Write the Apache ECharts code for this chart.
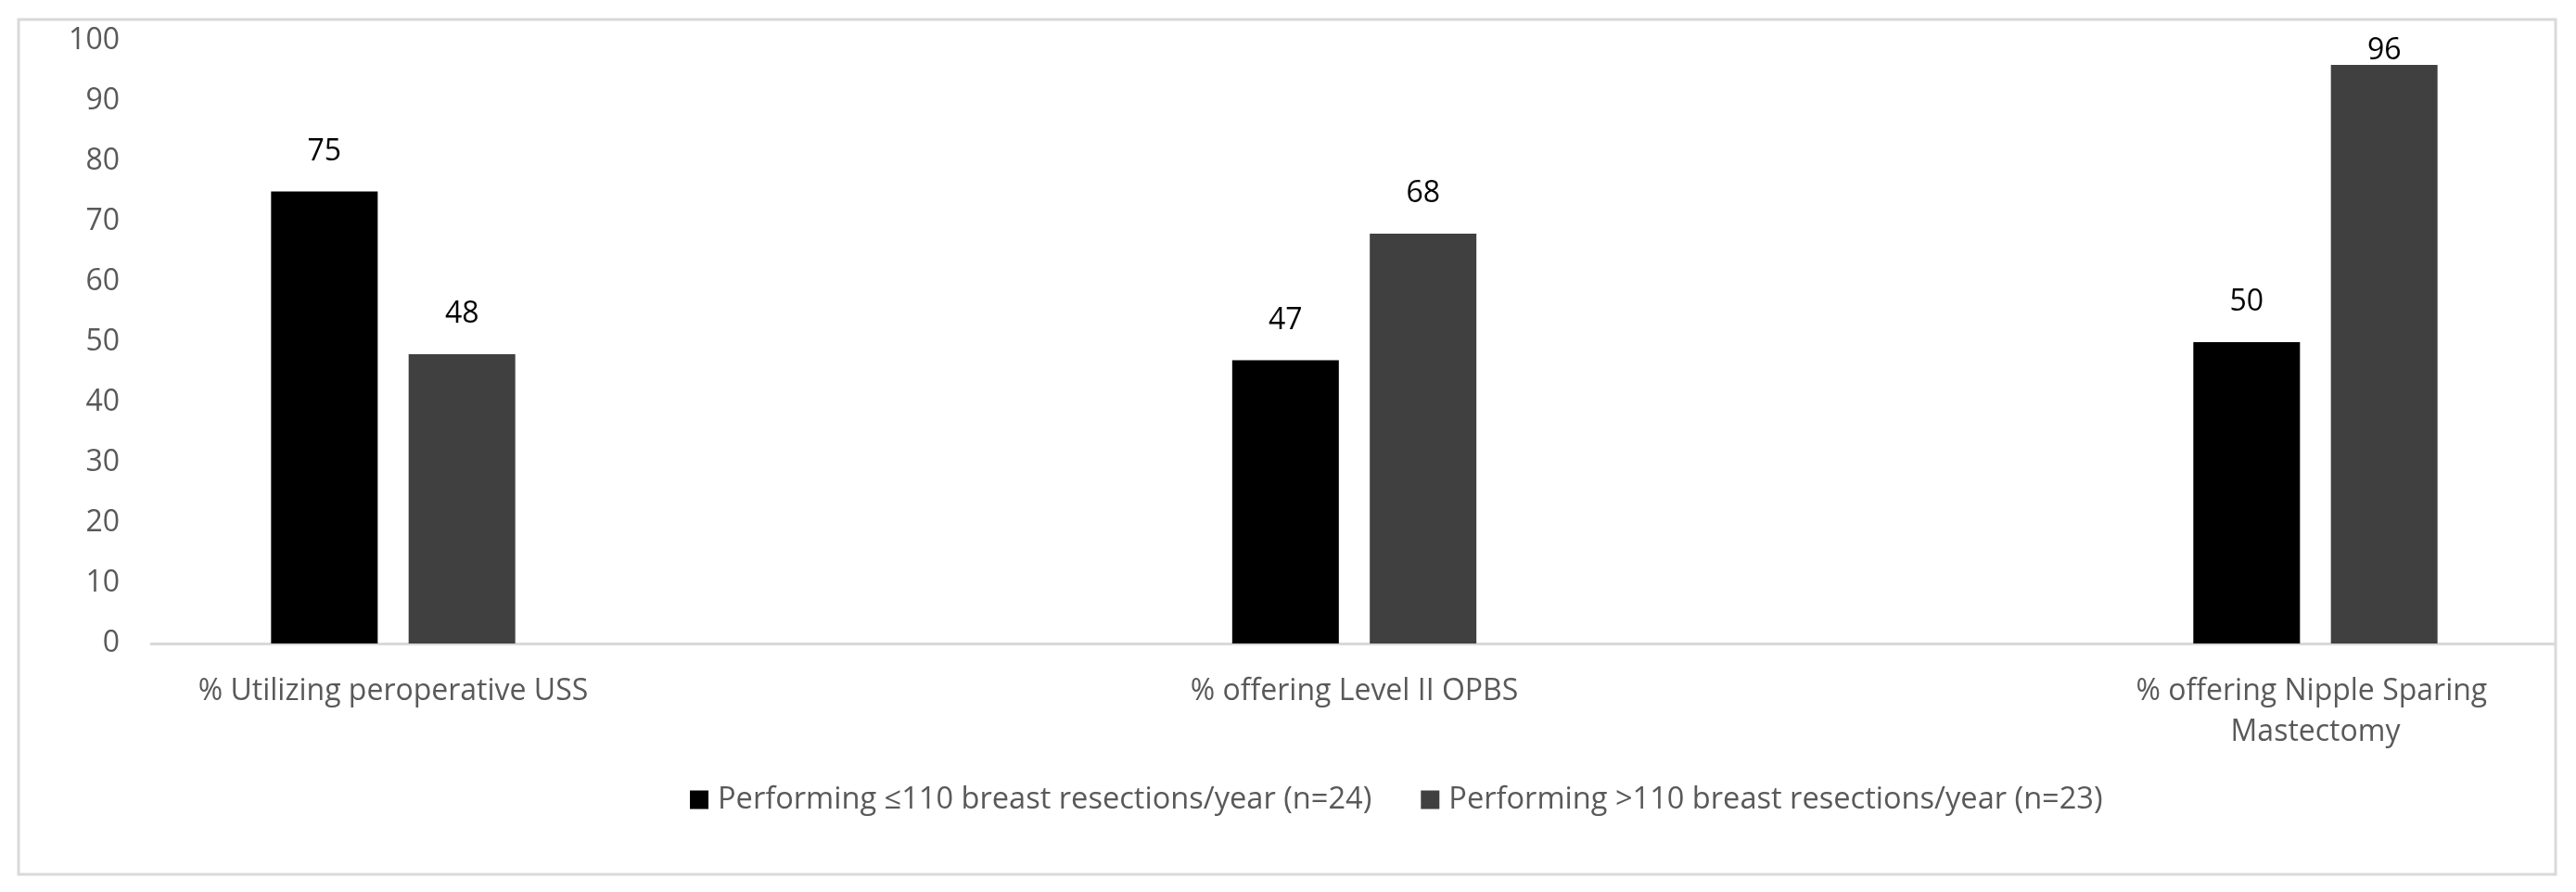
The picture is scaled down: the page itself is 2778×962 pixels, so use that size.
<!DOCTYPE html>
<html>
<head>
<meta charset="utf-8">
<script src="https://cdn.jsdelivr.net/npm/echarts@6/dist/echarts.min.js"></script>
<style>
html,body{margin:0;padding:0;background:#fff;}
#chart{width:2778px;height:962px;}
</style>
</head>
<body>
<div id="chart"></div>
<script>
var categories = ['% Utilizing peroperative USS', '% offering Level II OPBS', '% offering Nipple Sparing Mastectomy'];
var seriesNames = ['Performing \u2264110 breast resections/year (n=24)', 'Performing >110 breast resections/year (n=23)'];
var lowVolume = [75, 47, 50];
var highVolume = [48, 68, 96];
var yTicks = [0, 10, 20, 30, 40, 50, 60, 70, 80, 90, 100];

var FONT = "'Open Sans', sans-serif";
var FS = 32;
var colors = ['#000000', '#404040'];

function makeData(arr) {
  return arr.map(function (v) {
    if (v > 90) {
      return { value: v, label: { distance: -1 } };
    }
    return v;
  });
}

var chart = echarts.init(document.getElementById('chart'), null, { renderer: 'canvas' });
var option = {
  animation: false,
  backgroundColor: '#ffffff',
  textStyle: { fontFamily: FONT },
  graphic: [{
    type: 'rect',
    shape: { x: 20, y: 21, width: 2736, height: 922 },
    style: { fill: 'none', stroke: '#d9d9d9', lineWidth: 3 },
    silent: true
  }],
  legend: {
    left: 739,
    top: 841,
    itemWidth: 20,
    itemHeight: 20,
    itemGap: 53,
    icon: 'rect',
    data: seriesNames,
    textStyle: { color: '#595959', fontSize: 32.6, fontFamily: FONT, padding: [0, 0, 0, 5], width: 707 }
  },
  grid: [
    { left: 163, right: 23, top: 44, bottom: 268, containLabel: false },
    { left: 424, right: 281, top: 44, bottom: 268, containLabel: false }
  ],
  xAxis: [
    {
      type: 'category', gridIndex: 0, data: categories,
      axisLine: { show: true, lineStyle: { color: '#d9d9d9', width: 3 } },
      axisTick: { show: false }, axisLabel: { show: false }, splitLine: { show: false }
    },
    {
      type: 'category', gridIndex: 1, data: categories, boundaryGap: false,
      axisLine: { show: false }, axisTick: { show: false }, splitLine: { show: false },
      axisLabel: {
        show: true, color: '#595959', fontSize: FS, fontFamily: FONT, margin: 30,
        lineHeight: 44, width: 450, overflow: 'break', interval: 0
      }
    }
  ],
  yAxis: [
    {
      type: 'value', gridIndex: 0, min: 0, max: 100, interval: 10,
      axisLine: { show: false }, axisTick: { show: false }, splitLine: { show: false },
      axisLabel: { color: '#595959', fontSize: FS, fontFamily: FONT, margin: 34 }
    },
    {
      type: 'value', gridIndex: 1, min: 0, max: 100, interval: 10, show: false,
      splitLine: { show: false }
    }
  ],
  series: [
    {
      name: seriesNames[0], type: 'bar', xAxisIndex: 1, yAxisIndex: 1,
      data: makeData(lowVolume), barWidth: 115, barGap: '29%',
      itemStyle: { color: colors[0] },
      label: { show: true, position: 'top', distance: 27, color: '#000000', fontSize: FS, fontFamily: FONT }
    },
    {
      name: seriesNames[1], type: 'bar', xAxisIndex: 1, yAxisIndex: 1,
      data: makeData(highVolume), barWidth: 115, barGap: '29%',
      itemStyle: { color: colors[1] },
      label: { show: true, position: 'top', distance: 27, color: '#000000', fontSize: FS, fontFamily: FONT }
    }
  ]
};
chart.setOption(option);
</script>
</body>
</html>
